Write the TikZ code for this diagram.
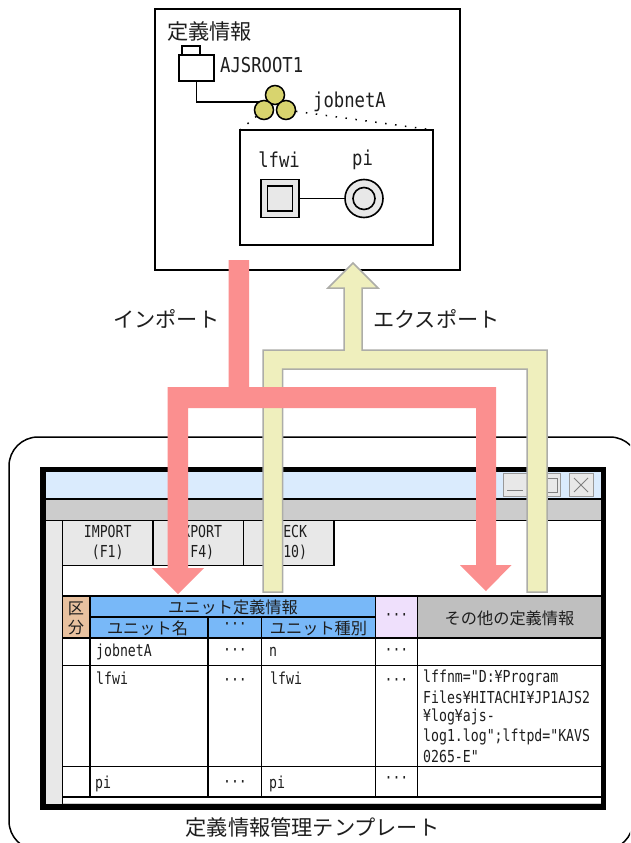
\documentclass[tikz,border=0pt]{standalone}
\usepackage{fontspec}
\newfontfamily\jp{Noto Sans CJK JP}
\newfontfamily\latb[FakeStretch=0.84]{DejaVu Sans Mono}
\newfontfamily\lats[FakeStretch=0.80]{DejaVu Sans Mono}
\definecolor{ink}{HTML}{1E1E1E}
\definecolor{pinka}{HTML}{FB8F8F}
\definecolor{yela}{HTML}{EFEFBD}
\definecolor{yelb}{HTML}{ADADA8}
\definecolor{panel}{HTML}{E8E8E8}
\definecolor{titlebar}{HTML}{DAEBFD}
\definecolor{band}{HTML}{CCCCCC}
\definecolor{hblue}{HTML}{78B8F8}
\definecolor{hlilac}{HTML}{EFE0FC}
\definecolor{hgray}{HTML}{BFBFBF}
\definecolor{hbrown}{HTML}{E8C19F}
\definecolor{olive}{HTML}{D8D46E}
\tikzset{
  txt/.style={inner sep=0pt,text=ink,align=center},
  jpL/.style={txt,font=\jp\fontsize{21.2}{25}\selectfont},
  jpM/.style={txt,font=\jp\fontsize{16.2}{19}\selectfont},
  latL/.style={txt,font=\latb\fontsize{20.5}{24}\selectfont},
  latS/.style={txt,font=\lats\fontsize{16.5}{20}\selectfont},
  cell/.style={latS,anchor=west},
  dots/.style={latS},
  thin line/.style={draw=black,line width=1.5pt},
  boxline/.style={draw=black,line width=1.6pt},
  grid line/.style={draw=black,line width=1.4pt},
  rectnode/.style={rectangle,inner sep=0pt,outer sep=0pt,boxline},
  joba/.style={circle,inner sep=0pt,outer sep=0pt,minimum size=19pt,draw=black,line width=1.5pt,fill=olive},
  winbtn/.style={draw=gray!80,line width=1pt,fill=panel},
  tabbox/.style={rectangle,inner sep=0pt,outer sep=0pt,grid line,fill=panel,latS,text=ink,align=center,minimum height=45pt,minimum width=90.5pt},
  pinkarrow/.style={fill=pinka,draw=none},
  yelarrow/.style={fill=yela,draw=yelb,line width=1.5pt,line join=miter},
}
\begin{document}
\begin{tikzpicture}[x=1pt,y=-1pt]
\useasboundingbox (0,0) rectangle (630,843);
\clip (0,0) rectangle (630,843);
\fill[white] (0,0) rectangle (630,843);

% upper definition box
\node[rectnode,minimum width=305pt,minimum height=261pt,fill=white] (defbox) at (307.5,139.5) {};
\node[jpL,anchor=west] (deflabel) at (167,31) {定義情報};
\node[rectnode,minimum width=18pt,minimum height=9pt,fill=white] (roottab) at (191,50.5) {};
\node[rectnode,minimum width=35pt,minimum height=26pt,fill=white] (root) at (196.5,68) {};
\node[latL,anchor=west] (rootlabel) at (220,65) {AJSROOT1};
\node[rectnode,minimum width=193pt,minimum height=115pt,fill=white] (inner) at (336.5,187.5) {};
\coordinate (jobin) at (264,102);
\coordinate (jobLc) at (264,110);
\coordinate (jobRc) at (286,110);
\draw[thin line] (root.south) |- (jobin);
\draw[line width=1.5pt,dash pattern=on 1.5pt off 8.5pt] (jobLc) -- (inner.north west);
\draw[line width=1.5pt,dash pattern=on 1.5pt off 8.5pt] (jobRc) -- (inner.north east);
\node[joba] (jobT) at (275,95) {};
\node[joba] (jobL) at (jobLc) {};
\node[joba] (jobR) at (jobRc) {};
\node[latL,anchor=west] (joblabel) at (313,102) {jobnetA};
\node[latL] (lfwilabel) at (279,160) {lfwi};
\node[latL] (pilabel) at (362.5,160) {pi};
\node[rectnode,minimum size=38pt,fill=panel] (lfwi) at (280,198.5) {};
\node[rectnode,minimum size=25pt,fill=panel] (lfwiin) at (lfwi.center) {};
\node[circle,inner sep=0pt,outer sep=0pt,minimum size=38pt,boxline,fill=panel] (pi) at (364,198.5) {};
\node[circle,inner sep=0pt,outer sep=0pt,minimum size=22pt,boxline,fill=panel] (piin) at (pi.center) {};
\draw[thin line] (lfwi) -- (pi);

% template frame
\draw[line width=1.5pt,fill=white] (38,437) -- (610,437) .. controls (626,437) and (639,450) .. (639,466) -- (633,821) .. controls (633,837) and (620,850) .. (604,850) -- (38,850) .. controls (22,850) and (9,837) .. (9,821) -- (9,466) .. controls (9,450) and (22,437) .. (38,437) -- cycle;
\node[jpL] (caption) at (312.5,827) {定義情報管理テンプレート};

% window
\draw[line width=5.5pt,fill=white] (43,469.7) rectangle (603.5,807);
\fill[titlebar] (45.7,472.4) rectangle (600.8,498);
\fill[band] (45.7,499.5) rectangle (600.8,520);
\fill[panel] (45.7,520) rectangle (62.5,804.3);
\draw[grid line] (45.7,498.8) -- (600.8,498.8);
\draw[grid line] (45.7,520.5) -- (600.8,520.5);
\draw[grid line] (62.5,520.5) -- (62.5,804.3);
\draw[draw=band,line width=1pt] (62.5,803.8) -- (600.8,803.8);
% window buttons
\draw[winbtn] (503.5,473) rectangle (527,496);
\draw[gray,line width=1pt] (507,490) -- (523,490);
\draw[winbtn] (536.5,473) rectangle (560,496);
\draw[gray,line width=1pt] (541,478) rectangle (557,492);
\draw[winbtn] (569.5,473) rectangle (593,496);
\draw[gray,line width=1pt] (574,478) -- (588,492) (588,478) -- (574,492);
% tabs
\node[tabbox] (tabA) at (107.75,542.75) {IMPORT\\(F1)};
\node[tabbox] (tabB) at (198.25,542.75) {EXPORT\\(F4)};
\node[tabbox] (tabC) at (288.75,542.75) {CHECK\kern3pt\\(F10)\kern3pt};

% table header fills
\fill[hbrown] (62.5,596) rectangle (90,638);
\fill[hblue] (90,596) rectangle (375.5,638);
\fill[hlilac] (375.5,596) rectangle (417.5,638);
\fill[hgray] (417.5,596) rectangle (600.8,638);
% table rules
\draw[grid line] (62.5,596) -- (600.8,596);
\draw[grid line] (90,617) -- (375.5,617);
\draw[grid line] (62.5,638) -- (600.8,638);
\draw[grid line] (62.5,665.5) -- (600.8,665.5);
\draw[grid line] (62.5,766.5) -- (600.8,766.5);
\draw[grid line] (62.5,797) -- (600.8,797);
\draw[grid line] (90,596) -- (90,797);
\draw[grid line] (208,617) -- (208,797);
\draw[grid line] (261.5,617) -- (261.5,797);
\draw[grid line] (375.5,596) -- (375.5,797);
\draw[grid line] (417.5,596) -- (417.5,797);
% header text
\node[jpM] (hk1) at (76,608.5) {区};
\node[jpM] (hk2) at (76,628) {分};
\node[jpM] (hunit) at (233,607) {ユニット定義情報};
\node[jpM] (hname) at (147.5,628) {ユニット名};
\node[dots] (hdot) at (235,626) {···};
\node[jpM] (htype) at (318.5,628) {ユニット種別};
\node[dots] (hdotb) at (396.5,617) {···};
\node[jpM] (hother) at (509.5,618) {その他の定義情報};
% rows
\node[cell] (r1a) at (96,652) {jobnetA};
\node[dots] (r1b) at (235,652) {···};
\node[cell] (r1c) at (269,652) {n};
\node[dots] (r1d) at (396.5,652) {···};
\node[cell] (r2a) at (96,678) {lfwi};
\node[dots] (r2b) at (235,682) {···};
\node[cell] (r2c) at (270,678) {lfwi};
\node[dots] (r2d) at (396.5,682) {···};
\node[cell] (r3a) at (95,784) {pi};
\node[dots] (r3b) at (235,784) {···};
\node[cell] (r3c) at (269,784) {pi};
\node[dots] (r3d) at (396.5,780) {···};
\node[cell] (o1) at (423,678) {lffnm="D:¥Program};
\node[cell] (o2) at (423,697.5) {Files¥HITACHI¥JP1AJS2};
\node[cell] (o3) at (423,717) {¥log¥ajs-};
\node[cell] (o4) at (423,736.5) {log1.log";lftpd="KAVS};
\node[cell] (o5) at (423,756) {0265-E"};

% arrow labels
\node[jpL,anchor=west] (implabel) at (113,319) {インポート};
\node[jpL,anchor=west] (explabel) at (373,319) {エクスポート};

% export arrow
\draw[yelarrow] (263,592) -- (263,350) -- (344,350) -- (344,288) -- (328,288) -- (353,263) -- (378,288) -- (362,288) -- (362,350) -- (547,350) -- (547,592) -- (527,592) -- (527,369) -- (282.5,369) -- (282.5,592) -- cycle;
% import arrow
\fill[pinkarrow] (228.5,260) -- (249,260) -- (249,387) -- (496,387) -- (496,565) -- (511.5,565) -- (486,591) -- (460,565) -- (476,565) -- (476,408) -- (188,408) -- (188,568) -- (204,568) -- (178,594) -- (152,568) -- (167.5,568) -- (167.5,387) -- (228.5,387) -- cycle;
\end{tikzpicture}
\end{document}
